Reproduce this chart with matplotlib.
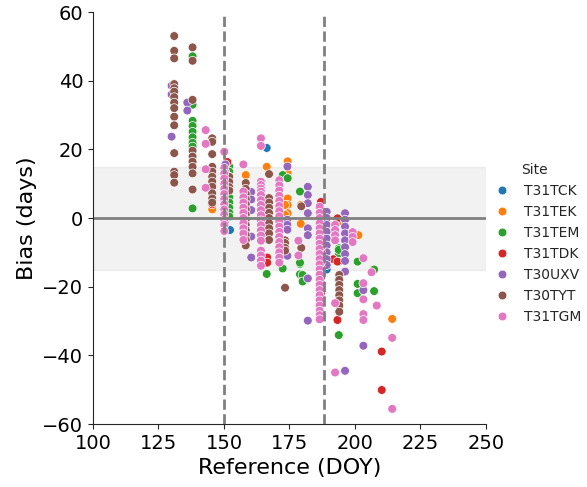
import matplotlib
matplotlib.use("Agg")
import matplotlib.pyplot as plt
import seaborn as sns
import pandas as pd

sites = ["T31TCK", "T31TEK", "T31TEM", "T31TDK", "T30UXV", "T30TYT", "T31TGM"]

# reference DOY -> list of biases, one dict per site
tck = {152.3: [-3.5], 166.3: [20.4], 189.2: [-14.5, -15]}
tek = {145.5: [2.5], 158.3: [12.5], 166.3: [14.9],
       174.3: [16.5, 13, 11.6, 5.7, 3.8, 1.4],
       173.3: [3.8, 0.9], 179.3: [3.8, -1.5, -1.7],
       194.7: [-1], 201.3: [-5], 214.2: [-29.4]}
tem = {138: [47.1, 33, 28.3, 26.8, 25.1, 23.5, 21.9, 20.8, 2.8],
       152: [15, 13.5, 12, 10.5, 9, 7.5, 6, 4.5, 3, 1.5, 0.4],
       166.3: [3.8, -16.3], 172.4: [12.5, -14.7], 174.3: [11.6],
       179: [7.7, -13.4, -16.4, -13], 180: [-16.6, -18.5],
       193.8: [-8.8, -10.3, -9.3, -12.7, -18, -34.1],
       201: [-12.7, -19.2, -21.9], 207.3: [-15, -21.3]}
tdk = {145.5: [4], 151.3: [16.3], 166.5: [-11.5, -13],
       187: [4.7], 191.7: [-12], 193.3: [-0.1, -12.7, -29.7],
       210.2: [-38.9, -50.1]}
uxv = {130: [38.5, 36, 23.7], 136: [33.6, 31.3],
       150.5: [15.6, 13.4, 9.3, -1], 160.4: [7.6, 5.4, 2.3, -5.4, -11.5],
       174.2: [15, -0.5, -2, -3.4, -11],
       182: [9.1, 6.7, 4.3, 1.4, -3, -5, -17.6, -29.9],
       189.2: [1.8, 0, -2, -4, -6, -8, -10, -12, -13.7],
       196.2: [1.4, -0.5, -2.5, -4.5, -6.5, -8.5, -10.5, -12.5, -15.6, -44.5],
       203.2: [-21, -37.2]}
tyt = {131: [53, 48.7, 46.5, 39, 37.8, 36.8, 35.2, 33.6, 32, 29.5, 27, 18.9, 13.5, 12.5, 10.3],
       138: [49.7, 45.8, 34.4, 19.6, 17.9, 16.4, 14.9, 13, 8.3],
       145.5: [23.2, 22.2, 18.6, 14.9, 13.5, 12, 10.6, 9.1, 7.2, 5.7, 4.5],
       152: [12, 10.5, 9, 8],
       158.3: [10.2, 8.5, 7, 5.5, 4, 2.5, 1, -0.5, -2, -3.5, -5, -6.5, -8],
       167.2: [12.8, 5.8, 4.5, 3, 1.5, 0, -1.5, -3, -4.5, -6.4],
       173.3: [-6.5, -7.3, -8.7, -9.5, -20.3],
       179.5: [3.4, -8.7],
       187: [-8.7, -10, -11.5, -13, -14.5, -16, -17.5, -19, -20.5, -22, -23.6],
       194: [-16.6, -18, -19.5, -21, -22.5, -24, -25.5, -27.3]}
tgm = {143: [25.6, 21.6, 14.2, 8.8],
       150.1: [19.3, 14.6, 13, 11.5, 10, 8.5, 7, 5.5, 4, 2.5, 1, -0.5, -2, -3.8],
       157.4: [15.6, 7.7, 6, 4.5, 3, 1.5, 0, -1.5, -3, -4.5, -6.4],
       164.1: [23.2, 21.0, 10.6, 9.6, 8.6, 7.7, 6.7, 5.2, 3.8, 2.3, 0.8, -0.7,
               -2.1, -3.6, -5.1, -6.6, -9.5, -10.9, -12.4, -13.9],
       171.1: [11, 9.5, 8, 6.5, 5, 3.5, 2, 0.5, -1, -2.5, -4, -5.5, -7, -8.5, -10, -11.5, -13],
       178.4: [-6.6, -10.9],
       186.5: [3.3, 1.5, 0, -1.5, -3, -4.5, -6, -7.5, -9, -10.5, -12, -13.5, -15, -16.5,
               -18, -19.5, -21, -22.5, -24, -25.5, -27, -28.3, -29.5],
       192.4: [-2, -3.5, -5, -6.5, -24.8, -45],
       199.1: [-4.1, -5.5, -7.0],
       203.2: [-11.7, -19, -23.7, -28, -29.7],
       206.3: [-15.8], 208.3: [-25.5], 214.2: [-34.9, -55.6]}

rows = []
for site, d in zip(sites, [tck, tek, tem, tdk, uxv, tyt, tgm]):
    for doy, biases in d.items():
        for b in biases:
            rows.append((site, doy, b))
df = pd.DataFrame(rows, columns=["Site", "Reference (DOY)", "Bias (days)"])

sns.set_style("ticks")
fig = plt.figure(figsize=(5.87, 4.87), dpi=100)
ax = fig.add_axes([93/587, 63/487, 393/587, 412/487])

ax.axhspan(-15, 15, color="grey", alpha=0.1)
ax.axhline(0, color="grey", lw=2)
ax.axvline(150, color="grey", ls="--", lw=2)
ax.axvline(188, color="grey", ls="--", lw=2)

sns.scatterplot(data=df, x="Reference (DOY)", y="Bias (days)", hue="Site",
                hue_order=sites, ax=ax, s=40, legend=True)

ax.set_xlim(100, 250)
ax.set_ylim(-60, 60)
ax.set_xlabel("Reference (DOY)", fontsize=16, color="black")
ax.set_ylabel("Bias (days)", fontsize=16, color="black")
ax.tick_params(labelsize=14, labelcolor="black")
sns.despine(ax=ax)

ax.legend(title="Site", loc="center left", bbox_to_anchor=(0.81, 0.5),
          bbox_transform=fig.transFigure, frameon=False, fontsize=10,
          title_fontsize=10, handletextpad=0.6)

fig.savefig("out.png", dpi=100)
